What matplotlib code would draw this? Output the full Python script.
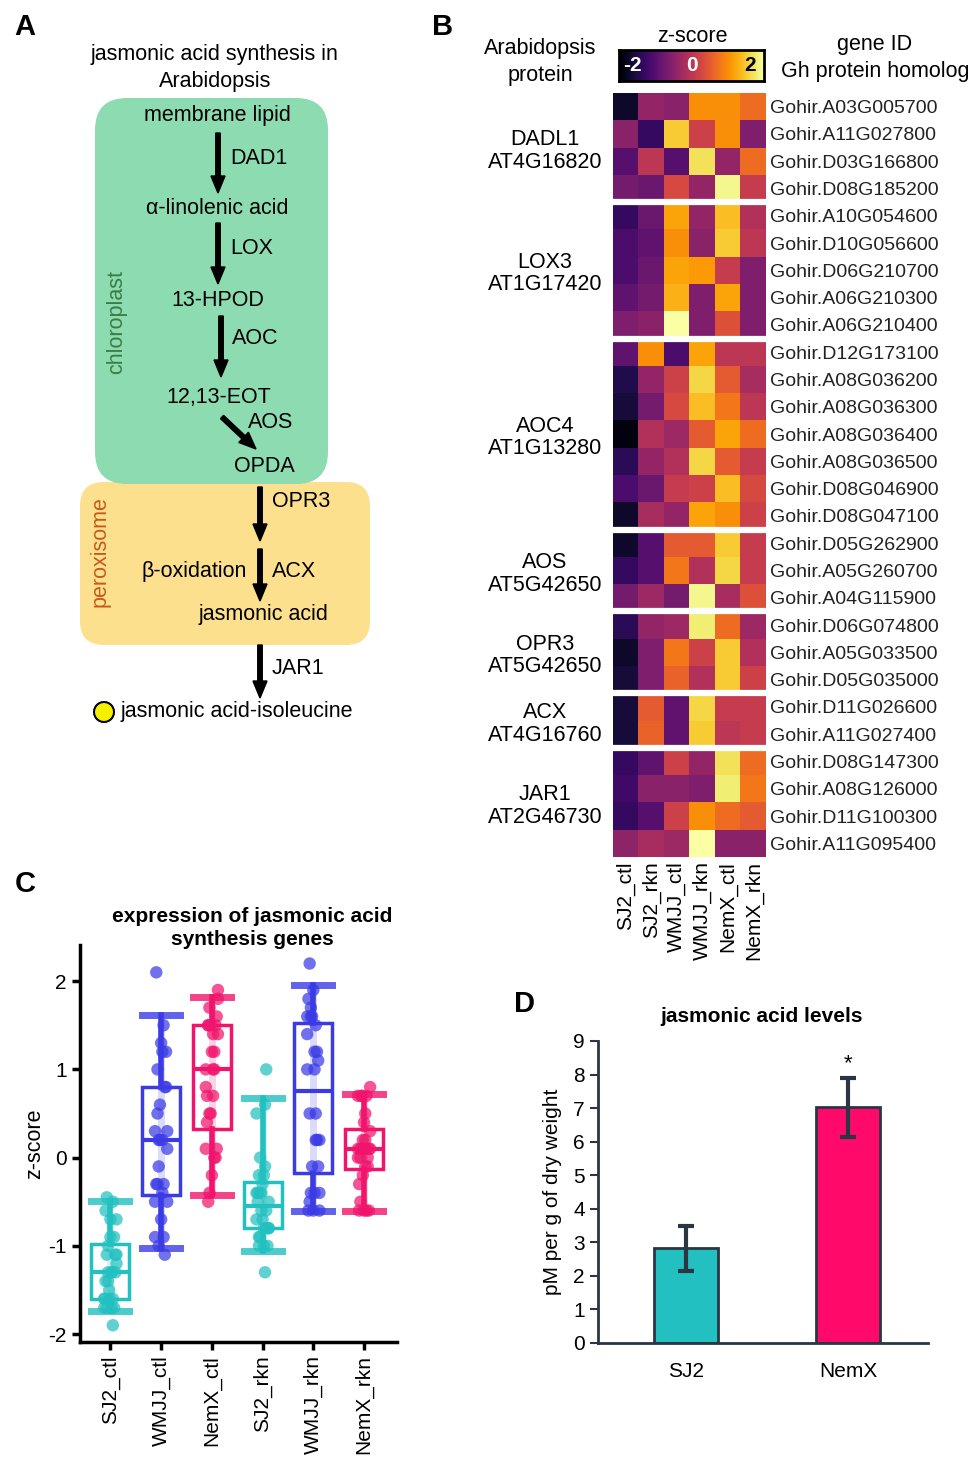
import numpy as np
import matplotlib
matplotlib.use('Agg')
import matplotlib.pyplot as plt
from matplotlib.patches import FancyBboxPatch, Circle
from matplotlib.cbook import boxplot_stats

plt.rcParams['font.family'] = ['Liberation Sans', 'DejaVu Sans']

W, H = 975, 1462

# ---------------- data ----------------
samples = ['SJ2_ctl', 'SJ2_rkn', 'WMJJ_ctl', 'WMJJ_rkn', 'NemX_ctl', 'NemX_rkn']
box_samples = ['SJ2_ctl', 'WMJJ_ctl', 'NemX_ctl', 'SJ2_rkn', 'WMJJ_rkn', 'NemX_rkn']

groups = ['DADL1\nAT4G16820', 'LOX3\nAT1G17420', 'AOC4\nAT1G13280', 'AOS\nAT5G42650',
          'OPR3\nAT5G42650', 'ACX\nAT4G16760', 'JAR1\nAT2G46730']
group_sizes = [4, 5, 7, 3, 3, 2, 4]

gene_ids = ['Gohir.A03G005700', 'Gohir.A11G027800', 'Gohir.D03G166800', 'Gohir.D08G185200',
            'Gohir.A10G054600', 'Gohir.D10G056600', 'Gohir.D06G210700', 'Gohir.A06G210300',
            'Gohir.A06G210400',
            'Gohir.D12G173100', 'Gohir.A08G036200', 'Gohir.A08G036300', 'Gohir.A08G036400',
            'Gohir.A08G036500', 'Gohir.D08G046900', 'Gohir.D08G047100',
            'Gohir.D05G262900', 'Gohir.A05G260700', 'Gohir.A04G115900',
            'Gohir.D06G074800', 'Gohir.A05G033500', 'Gohir.D05G035000',
            'Gohir.D11G026600', 'Gohir.A11G027400',
            'Gohir.D08G147300', 'Gohir.A08G126000', 'Gohir.D11G100300', 'Gohir.A11G095400']

# z-score per gene, columns in order of `samples`
zscores = [
    [-1.7, -0.4, -0.5, 1.0, 1.0, 0.7],
    [-0.5, -1.3, 1.5, 0.2, 1.0, -0.6],
    [-1.0, 0.0, -1.0, 1.7, -0.4, 0.7],
    [-0.7, -0.8, 0.3, -0.4, 1.9, 0.1],
    [-1.3, -0.8, 1.2, -0.4, 1.4, -0.1],
    [-1.1, -0.9, 1.0, -0.5, 1.5, 0.0],
    [-1.1, -0.8, 1.2, 1.1, 0.1, -0.6],
    [-0.9, -0.7, 1.3, -0.6, 1.2, -0.6],
    [-0.6, -0.5, 2.1, -0.6, 0.4, -0.6],
    [-0.9, 1.0, -1.1, 1.2, 0.0, 0.0],
    [-1.5, -0.4, 0.2, 1.6, 0.5, -0.2],
    [-1.6, -0.7, 0.3, 1.4, 0.8, 0.0],
    [-1.9, -0.1, -0.3, 0.5, 1.2, 0.7],
    [-1.4, -0.4, -0.1, 1.6, 0.5, 0.1],
    [-1.1, -0.8, 0.1, 0.2, 1.4, 0.3],
    [-1.7, -0.2, -0.4, 1.2, 1.0, 0.2],
    [-1.7, -1.0, 0.5, 0.5, 1.5, 0.1],
    [-1.3, -1.0, 0.8, -0.1, 1.6, 0.1],
    [-0.7, -0.3, -0.7, 1.9, -0.2, 0.4],
    [-1.4, -0.4, -0.3, 1.8, 0.7, -0.3],
    [-1.7, -0.6, 0.8, 0.2, 1.5, -0.1],
    [-1.6, -0.6, 0.6, -0.1, 1.5, 0.2],
    [-1.6, 0.5, -0.9, 1.6, 0.1, 0.1],
    [-1.6, 0.6, -0.9, 1.5, 0.0, 0.1],
    [-1.3, -0.9, 0.2, -0.4, 1.7, 0.7],
    [-1.2, -0.5, -0.5, -0.6, 1.8, 0.8],
    [-1.3, -1.0, 0.2, 1.0, 0.7, 0.5],
    [-0.45, -0.2, -0.3, 2.2, -0.5, -0.5],
]

ja_lines = ['SJ2', 'NemX']
ja_mean = [2.82, 7.02]
ja_err = [0.67, 0.87]

cyan, blue, pink = '#22c0c0', '#3b3be6', '#f0146c'
box_colors = [cyan, blue, pink, cyan, blue, pink]

fig = plt.figure(figsize=(W / 100, H / 100), dpi=100)


def add_ax(x0, y0, x1, y1):
    return fig.add_axes([x0 / W, 1 - y1 / H, (x1 - x0) / W, (y1 - y0) / H])


def ftext(x, y, s, **kw):
    fig.text(x / W, 1 - y / H, s, **kw)


# ---------------- A: pathway ----------------
axA = add_ax(0, 0, 480, 760)
axA.set_xlim(0, 480)
axA.set_ylim(760, 0)
axA.axis('off')

axA.add_patch(FancyBboxPatch((80, 482), 290, 163, boxstyle='round,pad=0,rounding_size=24',
                             fc='#fde08e', ec='none'))
axA.add_patch(FancyBboxPatch((95, 98), 233, 386, boxstyle='round,pad=0,rounding_size=32',
                             fc='#8ddbb0', ec='none'))

fs = 15.5
axA.text(215, 68, 'jasmonic acid synthesis in\nArabidopsis', ha='center', va='center',
         fontsize=fs, linespacing=1.35)
for x, y, s in [(217, 116, 'membrane lipid'), (217, 208, 'α-linolenic acid'),
                (218, 300, '13-HPOD'), (219, 397, '12,13-EOT'), (264, 466, 'OPDA'),
                (264, 614, 'jasmonic acid')]:
    axA.text(x, y, s, ha='center', va='center', fontsize=fs)
for x, y, s in [(230, 158, 'DAD1'), (230, 248, 'LOX'), (232, 339, 'AOC'), (248, 422, 'AOS'),
                (272, 501, 'OPR3'), (272, 571, 'ACX'), (272, 668, 'JAR1')]:
    axA.text(x, y, s, ha='left', va='center', fontsize=fs)
axA.text(247, 571, 'β-oxidation', ha='right', va='center', fontsize=fs)
axA.text(121, 711, 'jasmonic acid-isoleucine', ha='left', va='center', fontsize=fs)
axA.text(117, 322, 'chloroplast', rotation=90, ha='center', va='center', fontsize=fs,
         color='#3b7d42')
axA.text(100, 552, 'peroxisome', rotation=90, ha='center', va='center', fontsize=fs,
         color='#c45a1e')
axA.add_patch(Circle((104, 712), 10, fc='#f5f000', ec='black', lw=1.5))

for (x0, y0, x1, y1) in [(218, 133, 218, 193), (218, 223, 218, 284), (221, 316, 221, 377),
                         (222, 417, 256, 449), (260, 487, 260, 541), (260, 549, 260, 601),
                         (260, 645, 260, 698)]:
    axA.arrow(x0, y0, x1 - x0, y1 - y0, width=4.5, head_width=14, head_length=17,
              length_includes_head=True, fc='black', ec='black')

# panel letters
for x, y, s in [(25, 27, 'A'), (443, 27, 'B'), (25, 884, 'C'), (524, 1004, 'D')]:
    ftext(x, y, s, fontsize=21, fontweight='bold', ha='center', va='center')

# ---------------- B: heatmap ----------------
zs = np.array(zscores)
axB = add_ax(613, 93, 766, 857)
axB.imshow(zs, cmap='inferno', vmin=-2, vmax=2, aspect='auto', interpolation='nearest')
bounds = np.cumsum(group_sizes)[:-1]
for b in bounds:
    axB.axhline(b - 0.5, color='white', lw=4.5)
axB.yaxis.tick_right()
axB.set_yticks(range(len(gene_ids)))
axB.set_yticklabels(gene_ids, fontsize=14, color='#222222')
axB.set_xticks(range(len(samples)))
axB.set_xticklabels(samples, rotation=90, fontsize=15)
axB.tick_params(length=0, pad=3)
for sp in axB.spines.values():
    sp.set_visible(False)
starts = np.concatenate([[0], bounds])
for g, st, n in zip(groups, starts, group_sizes):
    axB.text(-3.17, st + (n - 1) / 2 + 0.12, g, ha='center', va='center', fontsize=15.5,
             linespacing=1.1, clip_on=False)

ftext(540, 62, 'Arabidopsis\nprotein', ha='center', va='center', fontsize=15.5, linespacing=1.35)
ftext(875, 58, 'gene ID\nGh protein homolog', ha='center', va='center', fontsize=15.5,
      linespacing=1.35)
ftext(692, 37, 'z-score', ha='center', va='center', fontsize=15.5)

axCb = add_ax(619, 50, 764, 81)
axCb.imshow(np.linspace(-2, 2, 256)[None, :], cmap='inferno', vmin=-2, vmax=2,
            aspect='auto', extent=[-2, 2, 0, 1])
axCb.set_xticks([])
axCb.set_yticks([])
for sp in axCb.spines.values():
    sp.set_linewidth(2)
axCb.text(-1.64, 0.5, '-2', color='white', fontsize=15, fontweight='bold', ha='center', va='center')
axCb.text(0.0, 0.5, '0', color='white', fontsize=15, fontweight='bold', ha='center', va='center')
axCb.text(1.62, 0.5, '2', color='black', fontsize=15, fontweight='bold', ha='center', va='center')

# ---------------- C: boxplot ----------------
axC = add_ax(80, 945, 397, 1342)
box_data = [zs[:, samples.index(s)] for s in box_samples]
offsets = np.array([((k * 7) % 11 - 5) / 5 * 0.12 for k in range(len(gene_ids))])
for i, (d, c) in enumerate(zip(box_data, box_colors)):
    st = boxplot_stats(d)[0]
    st['whislo'], st['whishi'] = np.percentile(d, [3, 97])
    st['fliers'] = []
    axC.vlines(i, st['whislo'], st['whishi'], color=c, alpha=0.18, lw=5, zorder=1)
    axC.bxp([st], positions=[i], widths=0.75, showfliers=False,
            patch_artist=True, capwidths=0.75,
            boxprops=dict(facecolor='none', edgecolor=c, lw=2.5),
            medianprops=dict(color=c, lw=3),
            whiskerprops=dict(color=c, lw=4),
            capprops=dict(color=c, lw=5, alpha=0.8))
    axC.scatter(i + offsets, d, s=80, color=c, alpha=0.72, edgecolors='none', zorder=3)
axC.set_xlim(-0.6, 5.65)
axC.set_ylim(-2.09, 2.41)
axC.set_xticks(range(6))
axC.set_xticklabels(box_samples, rotation=90, fontsize=15)
axC.set_yticks([-2, -1, 0, 1, 2])
axC.set_yticklabels(['-2', '-1', '0', '1', '2'], fontsize=15)
axC.set_ylabel('z-score', fontsize=15.5, labelpad=2)
for s in ['top', 'right']:
    axC.spines[s].set_visible(False)
for s in ['left', 'bottom']:
    axC.spines[s].set_linewidth(2.5)
axC.tick_params(width=2.5, length=6)
ftext(252, 928, 'expression of jasmonic acid\nsynthesis genes', ha='center', va='center',
      fontsize=15, fontweight='bold', linespacing=1.3)

# ---------------- D: bar chart ----------------
dark = '#2b3645'
axD = add_ax(598, 1041, 928, 1343)
xs = np.arange(len(ja_lines))
axD.bar(xs, ja_mean, width=0.4, color=[cyan, '#ff0a6a'], edgecolor=dark, lw=2, zorder=2)
axD.errorbar(xs, ja_mean, yerr=ja_err, fmt='none', ecolor=dark, elinewidth=3, capsize=6,
             capthick=3, zorder=3)
axD.text(1, 8.0, '*', ha='center', va='bottom', fontsize=16)
axD.set_xlim(-0.543, 1.494)
axD.set_ylim(0, 9)
axD.set_yticks(range(10))
axD.set_yticklabels([str(v) for v in range(10)], fontsize=15)
axD.set_xticks(xs)
axD.set_xticklabels(ja_lines, fontsize=15)
axD.tick_params(axis='x', length=0, pad=14)
axD.tick_params(axis='y', length=6, width=1.5, color=dark)
for s in ['top', 'right']:
    axD.spines[s].set_visible(False)
for s in ['left', 'bottom']:
    axD.spines[s].set_linewidth(2)
    axD.spines[s].set_color(dark)
axD.set_ylabel('pM per g of dry weight', fontsize=15, labelpad=8)
ftext(762, 1016, 'jasmonic acid levels', ha='center', va='center', fontsize=15,
      fontweight='bold')

fig.savefig('out.png', dpi=100)
